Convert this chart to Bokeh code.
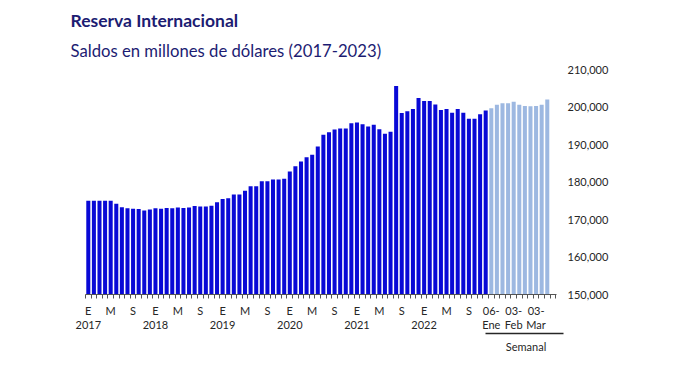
from bokeh.plotting import figure
from bokeh.models import FixedTicker, NumeralTickFormatter, Range1d, LinearAxis, Title
from bokeh.embed import file_html
from bokeh.resources import INLINE

# Monthly balances (millions of USD), Jan 2017 - Dec 2022
monthly_values = [
    175000, 175000, 175000, 175000, 175000, 174200, 173300, 173000, 172900, 172800, 172400, 172700,
    173000, 172900, 173100, 173000, 173200, 173100, 173200, 173600, 173500, 173500, 173700, 174600,
    175500, 175700, 176700, 176700, 177700, 178900, 178900, 180200, 180200, 180700, 180700, 180900,
    182800, 184200, 185500, 186600, 187300, 189500, 192600, 193300, 194000, 194300, 194300, 195700,
    195900, 195400, 194800, 195300, 194100, 192900, 193400, 205600, 198400, 198900, 199500, 202400,
    201600, 201600, 200700, 199200, 199500, 198500, 199500, 198500, 196900, 196900, 198100, 199100,
]
# Weekly balances 2023 (06-Ene ... 17-Mar)
weekly_values = [199700, 200600, 201000, 201000, 201400, 200600, 200300, 200200, 200300, 200600, 202000]

years = ["2017", "2018", "2019", "2020", "2021", "2022"]
month_letters = ["E", "M", "S"]          # Enero, Mayo, Septiembre
weekly_labels = ["06-\nEne", "03-\nFeb", "03-\nMar"]
y_ticks = [150000, 160000, 170000, 180000, 190000, 200000, 210000]

title_text = "Reserva Internacional"
subtitle_text = "Saldos en millones de dólares (2017-2023)"
weekly_caption = "Semanal"

DARK = "#0909D6"
LIGHT = "#9DB8E1"
NAVY = "#1C1C72"
TXT = "#262626"
FONT = "Lato"

n_m = len(monthly_values)
n_w = len(weekly_values)
n_all = n_m + n_w
x_m = list(range(n_m))
x_w = list(range(n_m, n_all))

p = figure(frame_width=478, frame_height=225,
           x_range=Range1d(-0.5, 84.9), y_range=Range1d(150000, 210000),
           output_backend="svg", toolbar_location=None,
           y_axis_location="right",
           min_border_left=85, min_border_top=69, min_border_bottom=20, min_border_right=60)
p.outline_line_color = None
p.grid.visible = False
p.background_fill_color = "white"
p.border_fill_color = "white"

p.vbar(x=x_m, top=monthly_values, bottom=150000, width=0.72, fill_color=DARK, line_color=None)
p.vbar(x=x_w, top=weekly_values, bottom=150000, width=0.72, fill_color=LIGHT, line_color=None)

# x axis
major = []
overrides = {}
for i in range(n_m):
    k = i % 12
    if k == 0:
        major.append(i); overrides[i] = month_letters[0] + "\n" + years[i // 12]
    elif k == 4:
        major.append(i); overrides[i] = month_letters[1]
    elif k == 8:
        major.append(i); overrides[i] = month_letters[2]
for j, lab in enumerate(weekly_labels):
    idx = n_m + 4 * j
    major.append(idx); overrides[idx] = lab
minor = [i - 0.5 for i in range(n_all + 2)]

xa = p.xaxis[0]
xa.ticker = FixedTicker(ticks=major, minor_ticks=minor)
xa.major_label_overrides = overrides
xa.bounds = (-0.5, n_all + 0.6)
xa.major_tick_line_color = None
xa.major_tick_out = 0
xa.major_tick_in = 0
xa.minor_tick_out = 4
xa.minor_tick_in = 0
xa.minor_tick_line_color = "#555555"
xa.axis_line_color = "#555555"
xa.major_label_standoff = 5
xa.major_label_text_font = FONT
xa.major_label_text_font_size = "11px"
xa.major_label_text_color = TXT
xa.major_label_text_line_height = 1.1

# second axis: weekly bracket and caption
wa = LinearAxis(ticker=FixedTicker(ticks=[78.2]), major_label_overrides={78.2: weekly_caption},
                bounds=(70.9, 84.9))
wa.axis_line_color = TXT
wa.axis_line_width = 1.5
wa.major_tick_line_color = None
wa.minor_tick_line_color = None
wa.major_tick_out = 0
wa.major_tick_in = 0
wa.major_label_standoff = 6
wa.major_label_text_font = FONT
wa.major_label_text_font_size = "11px"
wa.major_label_text_color = TXT
p.add_layout(wa, "below")

# y axis (right)
ya = p.yaxis[0]
ya.ticker = FixedTicker(ticks=y_ticks)
ya.formatter = NumeralTickFormatter(format="0,0")
ya.axis_line_color = None
ya.major_tick_line_color = None
ya.minor_tick_line_color = None
ya.major_tick_out = 0
ya.major_label_standoff = 4
ya.major_label_text_font = FONT
ya.major_label_text_font_size = "11px"
ya.major_label_text_color = TXT

# titles (subtitle first = closest to plot)
p.add_layout(Title(text=subtitle_text, align="left", offset=-15, standoff=17,
                   text_font=FONT, text_font_size="16.7px", text_font_style="normal",
                   text_color=NAVY), "above")
p.add_layout(Title(text=title_text, align="left", offset=-15, standoff=0,
                   text_font=FONT, text_font_size="17.5px", text_font_style="bold",
                   text_color=NAVY), "above")

open("out.html", "w").write(file_html(p, INLINE))
